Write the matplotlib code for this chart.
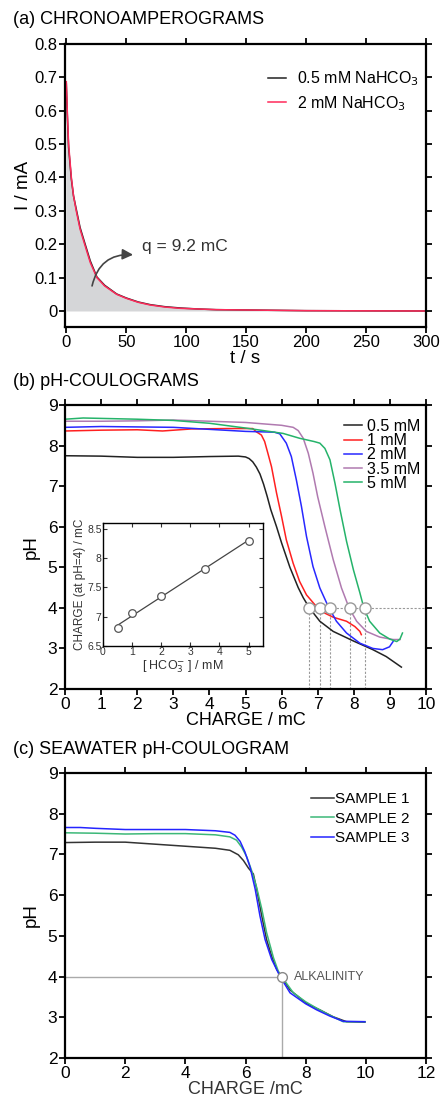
import numpy as np
import matplotlib
matplotlib.use("Agg")
from matplotlib import pyplot as plt

plt.rcParams['font.family'] = ['Liberation Sans', 'DejaVu Sans']

# (a) chronoamperograms
t_s = [0, 0.8, 1.9, 4.2, 6.0, 8.3, 11.5, 15.3, 20, 25.5, 32, 42, 50, 60, 70, 82, 95, 110, 125, 150, 200, 250, 300]
i_red = [0.687, 0.60, 0.50, 0.40, 0.345, 0.30, 0.245, 0.20, 0.145, 0.10, 0.075, 0.05, 0.038, 0.026, 0.018, 0.012, 0.008, 0.006, 0.004, 0.003, 0.001, 0.0005, 0.0]
i_black = [0.68, 0.59, 0.49, 0.395, 0.345, 0.305, 0.25, 0.205, 0.15, 0.102, 0.077, 0.051, 0.039, 0.027, 0.019, 0.013, 0.009, 0.006, 0.004, 0.003, 0.001, 0.0005, 0.0]

# (b) pH-coulograms
conc_labels = ["0.5 mM", "1 mM", "2 mM", "3.5 mM", "5 mM"]
conc_colors = ["#222222", "#ff2020", "#2828ff", "#b07ab0", "#25b36a"]
q_05 = [0, 1, 2, 3, 4, 4.8, 5.0, 5.1, 5.2, 5.3, 5.4, 5.5, 5.6, 5.7, 5.86, 6.0, 6.23, 6.46, 6.6, 6.77,
        7.06, 7.43, 8.0, 8.53, 8.9, 9.32]
ph_05 = [7.75, 7.74, 7.71, 7.71, 7.73, 7.74, 7.72, 7.68, 7.6, 7.47, 7.3, 7.05, 6.75, 6.42, 6.0, 5.6, 5.0, 4.5, 4.25, 4.0,
         3.67, 3.42, 3.18, 2.97, 2.8, 2.54]
q_1 = [0, 1, 2, 2.7, 3.5, 4.5, 5.2, 5.3, 5.44, 5.53, 5.62, 5.72, 5.86, 6.0, 6.13, 6.32, 6.5, 6.69, 6.92,
       7.2, 7.43, 7.8, 8.03, 8.17, 8.21]
ph_1 = [8.36, 8.38, 8.39, 8.36, 8.41, 8.42, 8.42, 8.34, 8.26, 8.1, 7.81, 7.48, 6.83, 6.25, 5.68, 5.1, 4.65, 4.32, 4.08,
        3.87, 3.77, 3.67, 3.54, 3.42, 3.34]
q_2 = [0, 1, 2, 3, 4, 5, 5.8, 5.95, 6.13, 6.27, 6.41, 6.55, 6.69, 6.87, 7.06, 7.29, 7.52, 7.8, 8.17,
       8.53, 8.8, 8.99, 9.09]
ph_2 = [8.45, 8.47, 8.46, 8.45, 8.40, 8.35, 8.33, 8.29, 8.06, 7.73, 7.15, 6.5, 5.76, 5.02, 4.49, 4.04, 3.67, 3.38, 3.13,
        3.0, 2.97, 3.04, 3.17]
q_35 = [0, 1, 2, 3, 4, 5, 6, 6.32, 6.46, 6.6, 6.74, 6.87, 7.0, 7.2, 7.43, 7.66, 7.87, 8.08, 8.35, 8.72,
        9.09, 9.28]
ph_35 = [8.6, 8.6, 8.61, 8.63, 8.6, 8.57, 8.5, 8.45, 8.37, 8.18, 7.81, 7.32, 6.74, 6.0, 5.19, 4.49, 4.0, 3.67, 3.42, 3.28,
         3.22, 3.22]
q_5 = [0, 0.5, 1, 2, 3, 4, 5.02, 6.04, 6.5, 6.9, 7.06, 7.2, 7.34, 7.48, 7.62, 7.8, 7.99, 8.17, 8.28, 8.44,
       8.72, 9.0, 9.19, 9.28, 9.35]
ph_5 = [8.65, 8.68, 8.67, 8.65, 8.62, 8.55, 8.43, 8.3, 8.18, 8.1, 8.06, 7.93, 7.65, 7.07, 6.42, 5.64, 4.94, 4.37, 4.0, 3.67,
        3.38, 3.23, 3.17, 3.23, 3.38]
q_at_ph4 = [6.77, 7.07, 7.33, 7.9, 8.3]

# inset: charge at pH 4 vs bicarbonate
hco3_mm = [0.5, 1, 2, 3.5, 5]
charge_ph4 = [6.8, 7.07, 7.35, 7.82, 8.3]

# (c) seawater
sample_labels = ["SAMPLE 1", "SAMPLE 2", "SAMPLE 3"]
sample_colors = ["#333333", "#3cb878", "#2424ff"]
q_s1 = [0, 1, 2, 3, 4, 5.0, 5.48, 5.76, 5.93, 6.1, 6.26, 6.37, 6.54, 6.7, 6.87, 7.04, 7.2,
        7.48, 8.03, 8.5, 8.92, 9.36, 9.97]
ph_s1 = [7.29, 7.3, 7.3, 7.25, 7.2, 7.15, 7.1, 6.99, 6.85, 6.66, 6.52, 6.15, 5.49, 4.91, 4.5, 4.17, 3.99,
         3.67, 3.34, 3.17, 3.01, 2.89, 2.88]
q_s2 = [0, 1, 2, 3, 4, 5.0, 5.48, 5.7, 5.87, 6.04, 6.2, 6.37, 6.54, 6.7, 6.93, 7.09, 7.2,
        7.59, 8.0, 8.37, 8.8, 9.25, 9.97]
ph_s2 = [7.53, 7.52, 7.5, 7.51, 7.51, 7.48, 7.43, 7.35, 7.18, 6.94, 6.61, 6.19, 5.66, 5.08, 4.46, 4.13, 4.0,
         3.6, 3.38, 3.22, 3.05, 2.89, 2.89]
q_s3 = [0, 0.5, 1, 2, 3, 4, 5.0, 5.48, 5.65, 5.82, 5.98, 6.15, 6.32, 6.48, 6.65, 6.87, 7.15,
        7.48, 8.0, 8.37, 8.8, 9.25, 9.97]
ph_s3 = [7.66, 7.66, 7.64, 7.61, 7.61, 7.61, 7.58, 7.54, 7.47, 7.32, 7.06, 6.69, 6.15, 5.49, 4.91, 4.42, 4.0,
         3.6, 3.33, 3.18, 3.03, 2.9, 2.89]
alkalinity_q = 7.2


def style_axes(ax, direction="out", size=4, width=1.6, lsize=12):
    for s in ax.spines.values():
        s.set_linewidth(width)
    ax.tick_params(direction=direction, length=size, width=width * 0.8,
                   top=True, right=True, labelsize=lsize, pad=1.5)


fig = plt.figure(figsize=(4.4, 10.97), dpi=100)

# ---- (a)
ax1 = fig.add_axes([0.148, 0.7019, 0.82, 0.258])
ax1.fill_between(t_s, i_red, 0, color="#d5d6d8", lw=0)
ax1.plot(t_s, i_black, color="#222222", lw=1.1, label="0.5 mM NaHCO$_3$")
ax1.plot(t_s, i_red, color="#ff2a5a", lw=1.1, label="2 mM NaHCO$_3$")
ax1.set_xlim(-1, 300)
ax1.set_ylim(-0.048, 0.8)
ax1.set_xticks(np.arange(0, 301, 50))
ax1.set_yticks(np.arange(0, 0.81, 0.1))
ax1.set_yticklabels(["0"] + ["%.1f" % v for v in np.arange(0.1, 0.81, 0.1)])
ax1.set_xlabel("t / s", fontsize=13.5, labelpad=0)
ax1.set_ylabel("I / mA", fontsize=13.5, labelpad=2)
style_axes(ax1)
ax1.legend(loc="upper right", frameon=False, fontsize=11.5, handlelength=1.1,
           handletextpad=0.7, labelspacing=0.35, bbox_to_anchor=(1.02, 0.96))
ax1.annotate("", xy=(58, 0.168), xytext=(21, 0.067),
             arrowprops=dict(arrowstyle="-|>", color="#444444", lw=1.2,
                             connectionstyle="arc3,rad=-0.45", mutation_scale=16))
ax1.text(63, 0.192, "q = 9.2 mC", fontsize=12.5, color="#333333", va="center")
fig.text(0.03, 1 - 20 / 1097, "(a) CHRONOAMPEROGRAMS", fontsize=13, va="center")

# ---- (b)
ax2 = fig.add_axes([0.148, 0.3719, 0.82, 0.2589])
curves_b = [(q_05, ph_05), (q_1, ph_1), (q_2, ph_2), (q_35, ph_35), (q_5, ph_5)]
for (q, ph), lab, col in zip(curves_b, conc_labels, conc_colors):
    ax2.plot(q, ph, color=col, lw=1.1, label=lab)
ax2.plot([q_at_ph4[0], 10], [4, 4], ls=(0, (2, 1.5)), color="#999999", lw=0.8, zorder=1)
for q in q_at_ph4:
    ax2.plot([q, q], [2, 4], ls=(0, (2, 1.5)), color="#999999", lw=0.8, zorder=1)
ax2.plot(q_at_ph4, [4] * len(q_at_ph4), "o", ms=8, mfc="white", mec="#999999",
         mew=1.0, zorder=5)
ax2.set_xlim(0, 10)
ax2.set_ylim(2, 9)
ax2.set_xticks(range(0, 11))
ax2.set_yticks(range(2, 10))
ax2.set_xlabel("CHARGE / mC", fontsize=13, labelpad=0)
ax2.set_ylabel("pH", fontsize=13.5, labelpad=6)
style_axes(ax2, lsize=12.5)
ax2.legend(loc="upper right", frameon=False, fontsize=11.5, handlelength=1.1,
           handletextpad=0.3, labelspacing=-0.05, bbox_to_anchor=(1.015, 0.99),
           borderpad=0.2)
fig.text(0.03, 1 - 382 / 1097, "(b) pH-COULOGRAMS", fontsize=13, va="center")

# inset
axi = fig.add_axes([0.234, 0.4111, 0.364, 0.1121])
coef = np.polyfit(hco3_mm, charge_ph4, 1)
xf = np.array([hco3_mm[0], hco3_mm[-1]])
axi.plot(xf, np.polyval(coef, xf), color="#444444", lw=0.9)
axi.plot(hco3_mm, charge_ph4, "o", ms=5.5, mfc="white", mec="#555555", mew=0.9)
axi.set_xlim(0, 5.5)
axi.set_ylim(6.5, 8.6)
axi.set_xticks(range(0, 6))
axi.set_yticks([6.5, 7, 7.5, 8, 8.5])
axi.set_yticklabels(["6.5", "7", "7.5", "8", "8.5"])
for s in axi.spines.values():
    s.set_linewidth(1.0)
axi.tick_params(direction="in", length=3, width=0.8, top=True, right=True,
                labelsize=7.5, pad=1, colors="#333333")
axi.set_xlabel("[ HCO$_3^{-}$ ] / mM", fontsize=9, labelpad=1, color="#333333")
axi.set_ylabel("CHARGE (at pH=4) / mC", fontsize=8.5, labelpad=1, color="#333333")

# ---- (c)
ax3 = fig.add_axes([0.148, 0.0356, 0.82, 0.2598])
curves_c = [(q_s1, ph_s1), (q_s2, ph_s2), (q_s3, ph_s3)]
for (q, ph), lab, col in zip(curves_c, sample_labels, sample_colors):
    ax3.plot(q, ph, color=col, lw=1.1, label=lab)
ax3.plot([0, alkalinity_q], [4, 4], color="#aaaaaa", lw=1.0, zorder=1)
ax3.plot([alkalinity_q, alkalinity_q], [2, 4], color="#aaaaaa", lw=1.0, zorder=1)
ax3.plot([alkalinity_q], [4], "o", ms=7, mfc="white", mec="#888888", mew=1.0, zorder=5)
ax3.text(alkalinity_q + 0.4, 4, "ALKALINITY", fontsize=9, color="#555555", va="center")
ax3.set_xlim(0, 12)
ax3.set_ylim(2, 9)
ax3.set_xticks(range(0, 13, 2))
ax3.set_yticks(range(2, 10))
ax3.set_xlabel("CHARGE /mC", fontsize=13, labelpad=0, color="#333333")
ax3.set_ylabel("pH", fontsize=13.5, labelpad=6)
style_axes(ax3, lsize=12.5)
ax3.legend(loc="upper right", frameon=False, fontsize=11, handlelength=1.5,
           handletextpad=0.1, labelspacing=0.35, bbox_to_anchor=(0.985, 0.97),
           borderpad=0.2)
fig.text(0.03, 1 - 750 / 1097, "(c) SEAWATER pH-COULOGRAM", fontsize=13, va="center")

fig.savefig("out.png", dpi=100)
